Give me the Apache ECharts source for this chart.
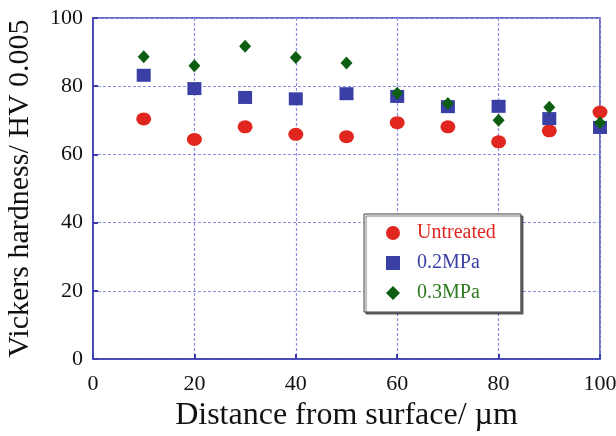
<!DOCTYPE html>
<html><head><meta charset="utf-8">
<script src="https://cdn.jsdelivr.net/npm/echarts@6/dist/echarts.min.js"></script>
<style>html,body{margin:0;padding:0;background:#fff}#c{width:616px;height:436px}</style>
</head><body><div id="c"></div>
<script>
const distances = [10, 20, 30, 40, 50, 60, 70, 80, 90, 100];
const untreated = [70.4, 64.4, 68.1, 65.9, 65.2, 69.3, 68.1, 63.7, 66.9, 72.4];
const mpa02 = [83.2, 79.3, 76.7, 76.3, 77.8, 77.0, 74.0, 74.1, 70.5, 67.9];
const mpa03 = [88.6, 86.0, 91.7, 88.4, 86.8, 77.9, 74.9, 70.0, 73.8, 69.3];
const seriesNames = ['Untreated', '0.2MPa', '0.3MPa'];
const xTitle = 'Distance from surface/ \u00b5m';
const yTitle = 'Vickers hardness/ HV 0.005';

const serif = '"Liberation Serif", "Times New Roman", serif';
const colors = ['#e0261f', '#3a3fa6', '#0b5e12'];
const pair = (ys) => distances.map((x, i) => [x, ys[i]]);

const chart = echarts.init(document.getElementById('c'), null, {renderer: 'canvas'});
const axisCommon = {
  min: 0, max: 100, interval: 20,
  axisLine: {show: true, lineStyle: {color: '#3b3fb0', width: 1.5}},
  axisTick: {show: true, inside: true, length: 5, lineStyle: {color: '#3b3fb0', width: 2}},
  splitLine: {show: true, lineStyle: {color: '#9090e0', type: [3, 2], width: 1.2}},
  axisLabel: {color: '#111', fontFamily: serif, fontSize: 22}
};
chart.setOption({
  animation: false,
  grid: {left: 93, right: 16, top: 18, bottom: 77, containLabel: false, outerBoundsMode: 'none',
    show: true, borderColor: '#3b3fb0', borderWidth: 1.5, backgroundColor: '#fff'},
  xAxis: Object.assign({}, axisCommon, {
    type: 'value',
    name: xTitle, nameLocation: 'middle', nameGap: 38,
    nameTextStyle: {color: '#111', fontFamily: serif, fontSize: 32},
    axisLabel: Object.assign({}, axisCommon.axisLabel, {margin: 14})
  }),
  yAxis: Object.assign({}, axisCommon, {
    type: 'value',
    name: yTitle, nameLocation: 'middle', nameGap: 58,
    nameTextStyle: {color: '#111', fontFamily: serif, fontSize: 30},
    axisLabel: Object.assign({}, axisCommon.axisLabel, {margin: 10})
  }),
  legend: {
    orient: 'vertical', left: 364, top: 214,
    padding: [9, 25, 9, 22],
    itemWidth: 14, itemHeight: 14, itemGap: 10,
    backgroundColor: '#fff', borderColor: '#444', borderWidth: 1,
    shadowColor: 'rgba(0,0,0,0.55)', shadowOffsetX: 2, shadowOffsetY: 2, shadowBlur: 1,
    textStyle: {fontFamily: serif, fontSize: 20, padding: [0, 0, 0, 12]},
    data: [
      {name: seriesNames[0], textStyle: {color: colors[0]}},
      {name: seriesNames[1], textStyle: {color: colors[1]}},
      {name: seriesNames[2], textStyle: {color: '#2f7a1e'}}
    ]
  },
  series: [
    {name: seriesNames[0], type: 'scatter', data: pair(untreated), symbol: 'circle', symbolSize: [15, 13], itemStyle: {color: colors[0], opacity: 1}, z: 2},
    {name: seriesNames[1], type: 'scatter', data: pair(mpa02), symbol: 'rect', symbolSize: [14, 13], itemStyle: {color: colors[1], opacity: 1}, z: 3},
    {name: seriesNames[2], type: 'scatter', data: pair(mpa03), symbol: 'diamond', symbolSize: [12, 13], itemStyle: {color: colors[2], opacity: 1}, z: 4}
  ]
});
</script></body></html>
